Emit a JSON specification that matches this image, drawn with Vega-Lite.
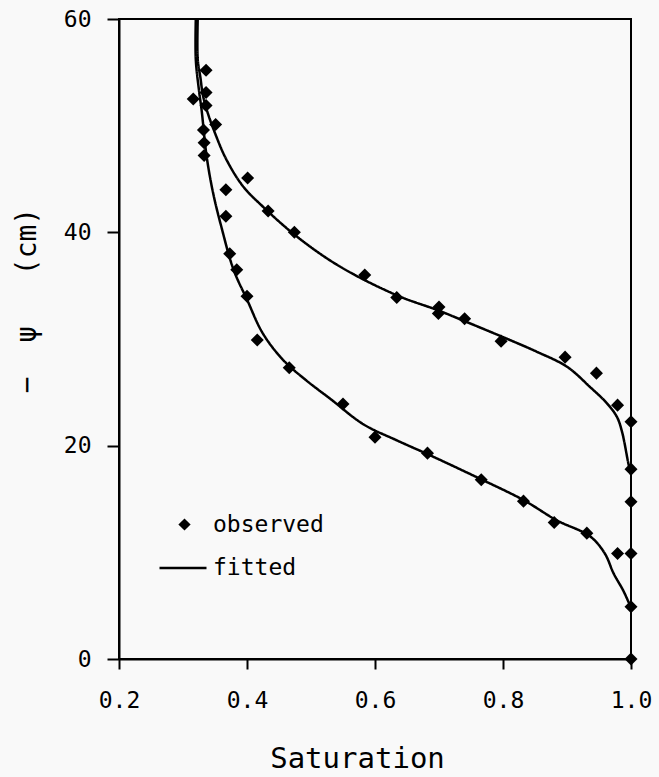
{
  "$schema": "https://vega.github.io/schema/vega-lite/v6.json",
  "width": 512,
  "height": 640,
  "autosize": "none",
  "padding": {"left": 119, "top": 19, "right": 28, "bottom": 118},
  "background": "#f9f9f9",
  "config": {
    "view": {"stroke": "black", "strokeWidth": 2},
    "font": "DejaVu Sans Mono"
  },
  "datasets": {
    "observed": [
      {"s": 0.336, "psi": 55.2}, {"s": 0.316, "psi": 52.5}, {"s": 0.336, "psi": 53.1},
      {"s": 0.336, "psi": 51.9}, {"s": 0.351, "psi": 50.1}, {"s": 0.332, "psi": 49.6},
      {"s": 0.333, "psi": 48.4}, {"s": 0.333, "psi": 47.2}, {"s": 0.401, "psi": 45.1},
      {"s": 0.367, "psi": 44.0}, {"s": 0.433, "psi": 42.0}, {"s": 0.367, "psi": 41.5},
      {"s": 0.474, "psi": 40.0}, {"s": 0.373, "psi": 38.0}, {"s": 0.384, "psi": 36.5},
      {"s": 0.400, "psi": 34.0}, {"s": 0.416, "psi": 29.9}, {"s": 0.466, "psi": 27.3},
      {"s": 0.550, "psi": 23.9}, {"s": 0.600, "psi": 20.8}, {"s": 0.682, "psi": 19.3},
      {"s": 0.766, "psi": 16.8}, {"s": 0.832, "psi": 14.8}, {"s": 0.880, "psi": 12.8},
      {"s": 0.931, "psi": 11.8}, {"s": 0.979, "psi": 9.9}, {"s": 1.0, "psi": 9.9},
      {"s": 1.0, "psi": 4.9}, {"s": 1.0, "psi": 0.0}, {"s": 1.0, "psi": 14.75},
      {"s": 1.0, "psi": 17.8}, {"s": 1.0, "psi": 22.25}, {"s": 0.979, "psi": 23.8},
      {"s": 0.946, "psi": 26.8}, {"s": 0.897, "psi": 28.3}, {"s": 0.797, "psi": 29.8},
      {"s": 0.740, "psi": 31.9}, {"s": 0.699, "psi": 32.4}, {"s": 0.700, "psi": 33.0},
      {"s": 0.634, "psi": 33.9}, {"s": 0.584, "psi": 36.0}
    ],
    "fitted": [
      {"curve": "upper", "s": 0.323, "psi": 60.0}, {"curve": "upper", "s": 0.323, "psi": 56.2},
      {"curve": "upper", "s": 0.327, "psi": 54.6}, {"curve": "upper", "s": 0.331, "psi": 52.9},
      {"curve": "upper", "s": 0.337, "psi": 51.5}, {"curve": "upper", "s": 0.350, "psi": 49.3},
      {"curve": "upper", "s": 0.368, "psi": 46.8}, {"curve": "upper", "s": 0.394, "psi": 44.3},
      {"curve": "upper", "s": 0.425, "psi": 42.4}, {"curve": "upper", "s": 0.478, "psi": 39.6},
      {"curve": "upper", "s": 0.545, "psi": 36.8}, {"curve": "upper", "s": 0.634, "psi": 34.1},
      {"curve": "upper", "s": 0.698, "psi": 32.7}, {"curve": "upper", "s": 0.743, "psi": 31.6},
      {"curve": "upper", "s": 0.811, "psi": 29.9}, {"curve": "upper", "s": 0.853, "psi": 28.8},
      {"curve": "upper", "s": 0.900, "psi": 27.4}, {"curve": "upper", "s": 0.936, "psi": 25.5},
      {"curve": "upper", "s": 0.962, "psi": 24.0}, {"curve": "upper", "s": 0.978, "psi": 22.7},
      {"curve": "upper", "s": 0.986, "psi": 21.3}, {"curve": "upper", "s": 0.996, "psi": 18.3},
      {"curve": "upper", "s": 1.0, "psi": 17.3},
      {"curve": "lower", "s": 0.320, "psi": 60.0}, {"curve": "lower", "s": 0.320, "psi": 56.2},
      {"curve": "lower", "s": 0.325, "psi": 53.3}, {"curve": "lower", "s": 0.329, "psi": 51.5},
      {"curve": "lower", "s": 0.337, "psi": 47.1}, {"curve": "lower", "s": 0.347, "psi": 43.7},
      {"curve": "lower", "s": 0.360, "psi": 40.5}, {"curve": "lower", "s": 0.379, "psi": 36.5},
      {"curve": "lower", "s": 0.400, "psi": 33.7}, {"curve": "lower", "s": 0.425, "psi": 30.5},
      {"curve": "lower", "s": 0.457, "psi": 28.0}, {"curve": "lower", "s": 0.493, "psi": 26.1},
      {"curve": "lower", "s": 0.530, "psi": 24.4}, {"curve": "lower", "s": 0.582, "psi": 22.0},
      {"curve": "lower", "s": 0.634, "psi": 20.5}, {"curve": "lower", "s": 0.686, "psi": 19.1},
      {"curve": "lower", "s": 0.764, "psi": 16.9}, {"curve": "lower", "s": 0.832, "psi": 14.9},
      {"curve": "lower", "s": 0.884, "psi": 13.0}, {"curve": "lower", "s": 0.936, "psi": 11.5},
      {"curve": "lower", "s": 0.959, "psi": 9.9}, {"curve": "lower", "s": 0.973, "psi": 8.0},
      {"curve": "lower", "s": 0.988, "psi": 6.4}, {"curve": "lower", "s": 1.0, "psi": 4.8}
    ]
  },
  "layer": [
    {
      "data": {"name": "fitted"},
      "mark": {"type": "line", "color": "black", "strokeWidth": 2.5, "interpolate": "catmull-rom"},
      "encoding": {
        "x": {
          "field": "s", "type": "quantitative",
          "scale": {"domain": [0.2, 1.0], "nice": false, "zero": false},
          "axis": {
            "values": [0.2, 0.4, 0.6, 0.8, 1.0], "format": ".1f", "grid": false,
            "title": "Saturation", "titleFontSize": 29, "titleFont": "DejaVu Sans Mono",
            "titleFontWeight": "normal", "titleColor": "black",
            "titleX": 238, "titleY": 108, "titleAlign": "center", "titleBaseline": "alphabetic",
            "labelFont": "DejaVu Sans Mono", "labelFontSize": 23, "labelColor": "black",
            "labelPadding": 20, "labelFlush": false,
            "domainColor": "black", "domainWidth": 2,
            "tickColor": "black", "tickWidth": 2, "tickSize": 10
          }
        },
        "y": {
          "field": "psi", "type": "quantitative",
          "scale": {"domain": [0, 60], "nice": false},
          "axis": {
            "values": [0, 20, 40, 60], "grid": false,
            "title": "−\u00a0\u00a0ψ\u00a0\u00a0\u00a0(cm)", "titleFontSize": 28, "titleFont": "DejaVu Sans Mono",
            "titleFontWeight": "normal", "titleColor": "black",
            "titleAngle": -90, "titleX": -92, "titleY": 281, "titleAlign": "center", "titleBaseline": "middle",
            "labelFont": "DejaVu Sans Mono", "labelFontSize": 23, "labelColor": "black",
            "labelPadding": 16, "labelFlush": false,
            "domainColor": "black", "domainWidth": 2,
            "tickColor": "black", "tickWidth": 2, "tickSize": 12
          }
        },
        "detail": {"field": "curve"},
        "order": {"field": "psi", "sort": "descending"},
        "strokeDash": {
          "datum": "fitted",
          "scale": {"domain": ["fitted"], "range": [[1, 0]]},
          "legend": {
            "orient": "none", "legendX": 39, "legendY": 524, "title": null, "padding": 0,
            "labelFont": "DejaVu Sans Mono", "labelFontSize": 23, "labelColor": "black",
            "labelOffset": 5, "symbolSize": 2209, "symbolType": "stroke",
            "symbolStrokeColor": "black", "symbolStrokeWidth": 2.5
          }
        }
      }
    },
    {
      "data": {"name": "observed"},
      "mark": {"type": "point", "filled": true, "color": "black", "size": 170, "opacity": 1},
      "encoding": {
        "x": {"field": "s", "type": "quantitative"},
        "y": {"field": "psi", "type": "quantitative"},
        "shape": {
          "datum": "observed",
          "scale": {"domain": ["observed"], "range": ["diamond"]},
          "legend": {
            "orient": "none", "legendX": 54, "legendY": 494, "title": null, "padding": 0,
            "labelFont": "DejaVu Sans Mono", "labelFontSize": 23, "labelColor": "black",
            "labelOffset": 17, "symbolSize": 150,
            "symbolFillColor": "black", "symbolStrokeColor": "black", "symbolStrokeWidth": 0
          }
        }
      }
    }
  ]
}
